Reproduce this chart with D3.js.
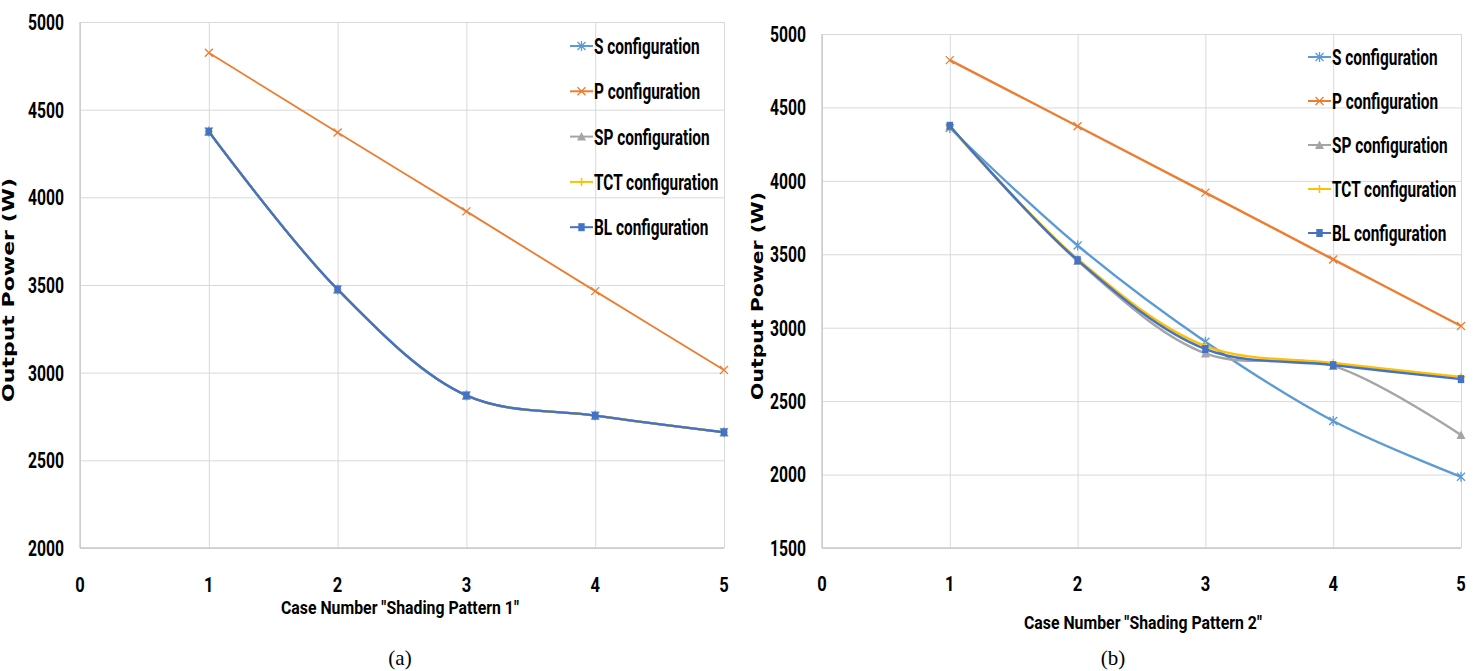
<!DOCTYPE html>
<html>
<head>
<meta charset="utf-8">
<script src="https://cdn.jsdelivr.net/npm/d3@7"></script>
<style>
  html, body { margin: 0; padding: 0; background: #fff; }
  svg { display: block; }
  .cond { font-family: Roboto, "Open Sans", "Liberation Sans", sans-serif; font-weight: bold; fill: #000; }
  .ytitle { font-family: "DejaVu Sans", Verdana, sans-serif; font-weight: bold; fill: #000; }
  .caption { font-family: "Liberation Serif", "Times New Roman", serif; fill: #000; }
</style>
</head>
<body>
<svg id="chart" width="1481" height="671"></svg>
<script>
// ---------- data ----------
const cases = [1, 2, 3, 4, 5];
const seriesNames = ["S configuration", "P configuration", "SP configuration", "TCT configuration", "BL configuration"];

// Shading pattern 1 (a)
const a_S   = [4375, 3475, 2870, 2755, 2660];
const a_P   = [4825, 4370, 3920, 3465, 3015];
const a_SP  = [4375, 3475, 2870, 2755, 2660];
const a_TCT = [4375, 3475, 2870, 2755, 2660];
const a_BL  = [4375, 3475, 2870, 2755, 2660];

// Shading pattern 2 (b)
const b_S   = [4360, 3560, 2905, 2365, 1985];
const b_P   = [4822, 4372, 3920, 3465, 3012];
const b_SP  = [4370, 3455, 2825, 2740, 2270];
const b_TCT = [4372, 3468, 2875, 2760, 2665];
const b_BL  = [4375, 3460, 2855, 2745, 2650];

const xTicks = [0, 1, 2, 3, 4, 5];
const yTicksA = [2000, 2500, 3000, 3500, 4000, 4500, 5000];
const yTicksB = [1500, 2000, 2500, 3000, 3500, 4000, 4500, 5000];

const xTitleA = 'Case Number "Shading Pattern 1"';
const xTitleB = 'Case Number "Shading Pattern 2"';
const yTitle = "Output Power (W)";

// ---------- styles ----------
const colors = ["#5B9BD5", "#ED7D31", "#A5A5A5", "#FFC000", "#4472C4"];
const markers = ["star", "x", "triangle", "plus", "square"];

const svg = d3.select("#chart");

function fitWidth(sel, target) {
  sel.attr("textLength", target).attr("lengthAdjust", "spacingAndGlyphs");
}

function drawMarker(g, type, cx, cy, color) {
  const s = 4;
  if (type === "square") {
    g.append("rect").attr("x", cx - 3.2).attr("y", cy - 4).attr("width", 6.4).attr("height", 8).attr("fill", color);
  } else if (type === "x") {
    g.append("path").attr("d", `M${cx-s},${cy-s}L${cx+s},${cy+s}M${cx-s},${cy+s}L${cx+s},${cy-s}`).attr("stroke", color).attr("stroke-width", 1.3).attr("fill", "none");
  } else if (type === "star") {
    g.append("path").attr("d", `M${cx-s},${cy-s}L${cx+s},${cy+s}M${cx-s},${cy+s}L${cx+s},${cy-s}M${cx},${cy-s-1}L${cx},${cy+s+1}`).attr("stroke", color).attr("stroke-width", 1.3).attr("fill", "none");
  } else if (type === "triangle") {
    g.append("path").attr("d", `M${cx},${cy-4.5}L${cx+4.5},${cy+4}L${cx-4.5},${cy+4}Z`).attr("fill", color);
  } else if (type === "plus") {
    g.append("path").attr("d", `M${cx-s},${cy}L${cx+s},${cy}M${cx},${cy-s}L${cx},${cy+s}`).attr("stroke", color).attr("stroke-width", 1.5).attr("fill", "none");
  }
}

function drawPanel(opts) {
  const { left, right, top, bottom, yDomain, yTicks, data, widths, xTitle, xTitleX, xTitleY, yTitleX, yTitleLen, tickLabelY, legendX, legendY0, legendStep, caption, captionX } = opts;
  const x = d3.scaleLinear().domain([0, 5]).range([left, right]);
  const y = d3.scaleLinear().domain(yDomain).range([bottom, top]);
  const g = svg.append("g");

  // gridlines via axes
  g.append("g").attr("transform", `translate(${left},0)`)
    .call(d3.axisLeft(y).tickValues(yTicks).tickSize(-(right - left)).tickFormat(""))
    .call(s => s.select(".domain").remove())
    .call(s => s.selectAll("line").attr("stroke", "#d9d9d9").attr("stroke-width", 1));
  g.append("g").attr("transform", `translate(0,${bottom})`)
    .call(d3.axisBottom(x).tickValues(xTicks).tickSize(-(bottom - top)).tickFormat(""))
    .call(s => s.select(".domain").remove())
    .call(s => s.selectAll("line").attr("stroke", "#d9d9d9").attr("stroke-width", 1));
  g.append("line").attr("x1", left).attr("x2", right).attr("y1", bottom).attr("y2", bottom).attr("stroke", "#c8c8c8").attr("stroke-width", 1.3);
  g.append("line").attr("x1", left).attr("x2", left).attr("y1", top).attr("y2", bottom).attr("stroke", "#c8c8c8").attr("stroke-width", 1.3);

  // y tick labels
  g.selectAll(".ylab").data(yTicks).join("text")
    .attr("class", "cond")
    .attr("x", left - 16).attr("y", d => y(d))
    .attr("dy", "0.36em").attr("text-anchor", "end")
    .attr("font-size", 22).text(d => d)
    .call(s => fitWidth(s, 36));
  // x tick labels
  g.selectAll(".xlab").data(xTicks).join("text")
    .attr("class", "cond")
    .attr("x", d => x(d)).attr("y", tickLabelY)
    .attr("text-anchor", "middle").attr("font-size", 21).text(d => d)
    .call(s => fitWidth(s, 9.5));

  // titles
  g.append("text").attr("class", "cond").attr("x", xTitleX).attr("y", xTitleY)
    .attr("text-anchor", "middle").attr("font-size", 19).text(xTitle)
    .call(s => fitWidth(s, 238));
  g.append("text").attr("class", "ytitle")
    .attr("transform", `translate(${yTitleX},${(top + bottom) / 2 + 5}) rotate(-90)`)
    .attr("text-anchor", "middle").attr("font-size", 16).text(yTitle)
    .call(s => fitWidth(s, yTitleLen));

  // lines
  const line = d3.line().x((d, i) => x(cases[i])).y(d => y(d)).curve(d3.curveCatmullRom.alpha(0.5));
  data.forEach((vals, si) => {
    const sg = g.append("g");
    sg.append("path").attr("d", line(vals)).attr("fill", "none").attr("stroke", colors[si]).attr("stroke-width", widths[si]);
    vals.forEach((v, i) => drawMarker(sg, markers[si], x(cases[i]), y(v), colors[si]));
  });

  // legend (narrow face emulated with a horizontal scale)
  seriesNames.forEach((name, si) => {
    const ly = legendY0 + si * legendStep;
    const lg = g.append("g");
    lg.append("line").attr("x1", legendX).attr("x2", legendX + 23).attr("y1", ly).attr("y2", ly).attr("stroke", colors[si]).attr("stroke-width", 2);
    drawMarker(lg, markers[si], legendX + 11.5, ly, colors[si]);
    lg.append("text").attr("class", "cond")
      .attr("transform", `translate(${legendX + 24},${ly}) scale(0.70,1)`)
      .attr("x", 0).attr("y", 0).attr("dy", "0.36em")
      .attr("font-size", 22).text(name);
  });

  // caption
  svg.append("text").attr("class", "caption").attr("x", captionX).attr("y", 665).attr("text-anchor", "middle").attr("font-size", 21).text(caption);
}

drawPanel({
  left: 80, right: 724, top: 22, bottom: 548,
  yDomain: [2000, 5000], yTicks: yTicksA,
  data: [a_S, a_P, a_SP, a_TCT, a_BL], widths: [2.2, 1.8, 2.2, 2.2, 2.4],
  xTitle: xTitleA, xTitleX: 400, xTitleY: 614, yTitleX: 14, yTitleLen: 224, tickLabelY: 592,
  legendX: 570, legendY0: 46, legendStep: 45.3,
  caption: "(a)", captionX: 400
});
drawPanel({
  left: 822, right: 1461, top: 34, bottom: 548,
  yDomain: [1500, 5000], yTicks: yTicksB,
  data: [b_S, b_P, b_SP, b_TCT, b_BL], widths: [2.4, 2.4, 2.4, 2.4, 2.4],
  xTitle: xTitleB, xTitleX: 1143, xTitleY: 629, yTitleX: 763, yTitleLen: 208, tickLabelY: 591,
  legendX: 1308, legendY0: 57, legendStep: 44,
  caption: "(b)", captionX: 1113
});
</script>
</body>
</html>
